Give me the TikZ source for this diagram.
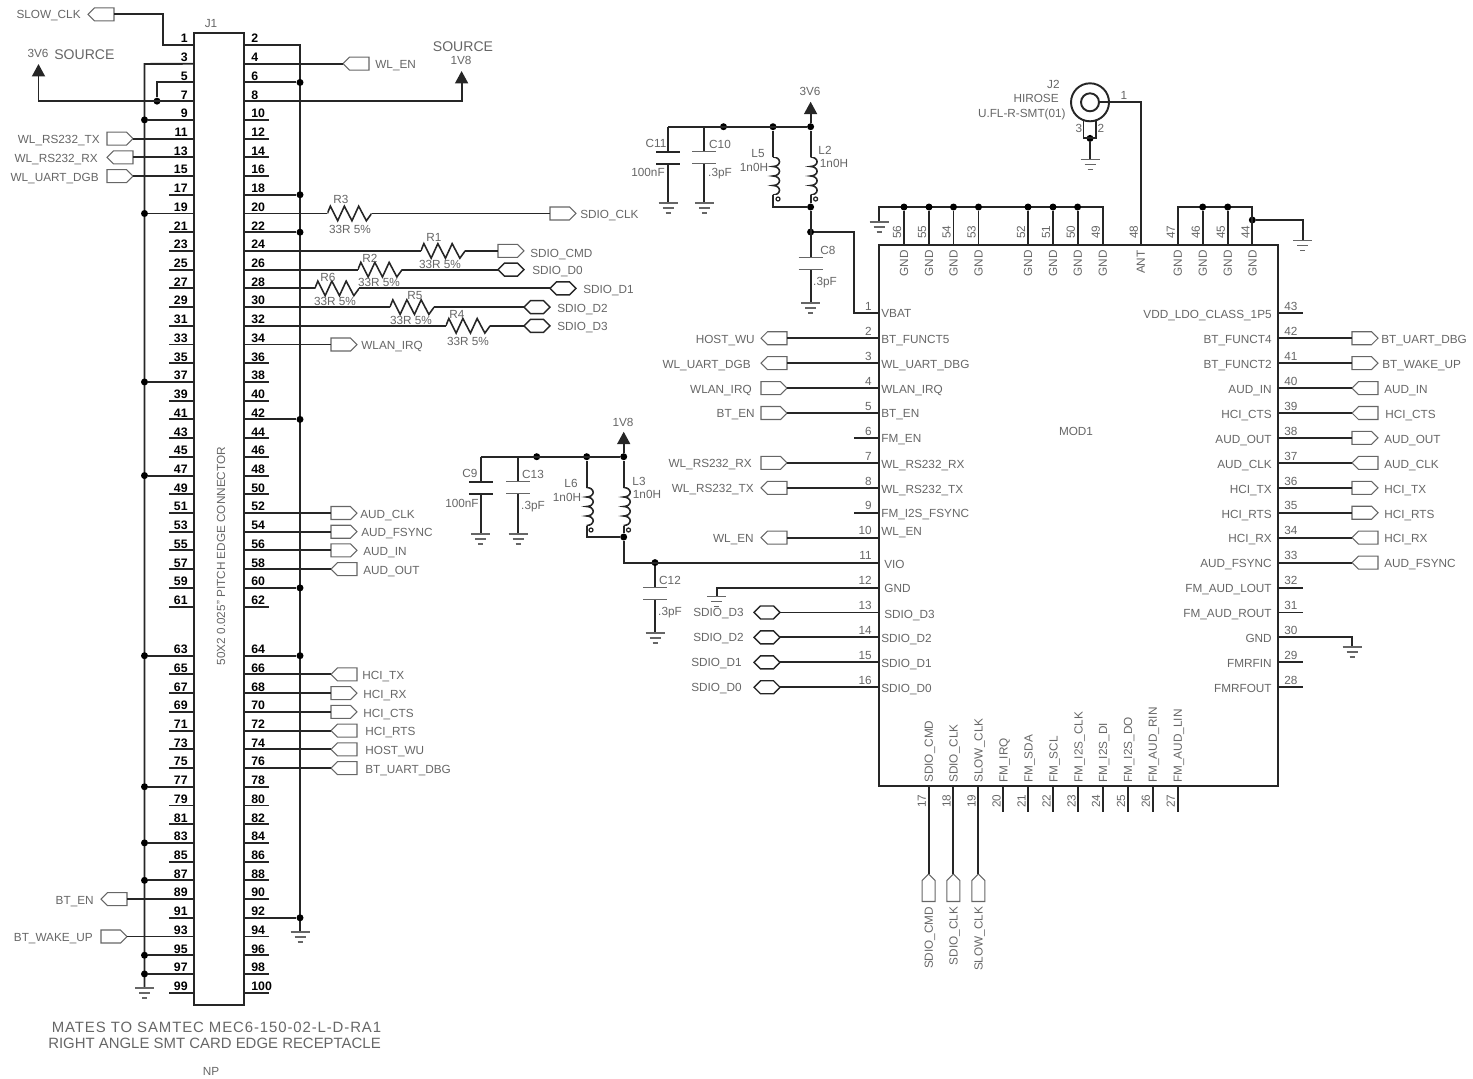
\documentclass[tikz,border=0pt]{standalone}
\usepackage{fontspec}
\setmainfont{Liberation Sans}
\newfontfamily\WideFont[LetterSpace=6]{Liberation Sans}
\usepackage{xcolor}
\usetikzlibrary{arrows.meta}
\usetikzlibrary{circuits.ee.IEC}
\usetikzlibrary{shapes.symbols}
\definecolor{PlotGray}{HTML}{666666}
\definecolor{WireDark}{HTML}{262626}
\tikzset{
  Wire/.style={line width=1.1pt,draw=WireDark}, % Leitung
  Txt/.style={font=\fontsize{6.7}{8}\selectfont,text=PlotGray,inner sep=0pt,text height=4.8pt,text depth=0pt},
  PinNr/.style={font=\fontsize{7}{8}\selectfont\bfseries,text=black,inner sep=0pt,text height=5pt,text depth=0pt},
  Port/.style={signal,signal to=#1,draw=PlotGray,line width=.6pt,anchor=west,
    minimum width=.52cm,minimum height=.26cm,inner sep=0pt,outer sep=0pt},
  HexPort/.style={Port=east and west,draw=WireDark,line width=.8pt},
  UpPort/.style={Port=north,anchor=north,minimum width=.26cm,minimum height=.42cm},
  Dot/.style={circle,fill=black,inner sep=0pt,minimum size=.14cm},
  Pol/.style={circle,draw=WireDark,line width=.7pt,inner sep=0pt,minimum size=.08cm},
  Box/.style={draw=WireDark,line width=1.1pt,inner sep=0pt,outer sep=0pt},
  Res/.style={rectangle,inner sep=0pt,outer sep=0pt,minimum width=.886cm,minimum height=.36cm,
    path picture={\draw[WireDark,line width=.9pt] (path picture bounding box.west) -- ++(3,-7.3) -- ++(7.3,14.6) -- ++(6.7,-14.6) -- ++(7.6,14.6) -- ++(6.7,-14.6) -- ++(7.7,14.6) -- ++(5.3,-7.3);}},
  Ind/.style={rectangle,inner sep=0pt,outer sep=0pt,minimum width=.5cm,minimum height=.76cm,
    path picture={\draw[WireDark,line width=.9pt] (path picture bounding box.north)
      arc[start angle=90,end angle=-90,x radius=.13cm,y radius=.095cm]
      arc[start angle=90,end angle=-90,x radius=.13cm,y radius=.095cm]
      arc[start angle=90,end angle=-90,x radius=.13cm,y radius=.095cm]
      arc[start angle=90,end angle=-90,x radius=.13cm,y radius=.095cm];}},
  GndSym/.pic={\draw[PlotGray,line width=.7pt] (-9.5,0) -- (9.5,0) (-5.5,5) -- (5.5,5) (-2.5,10) -- (2.5,10);}
}
\begin{document}
\begin{tikzpicture}[x=.02cm,y=-.02cm,
circuit ee IEC, circuit symbol lines/.style={draw=WireDark,line width=1.2pt},
set capacitor graphic={capacitor IEC graphic,circuit symbol size=width 1 height 2},
circuit symbol unit=6.8pt,
>={Triangle[length=.25cm,width=.26cm]}
]
\useasboundingbox (0,0) rectangle (1473,1078);

%Steckverbinder J1
\node[Box,minimum width=1cm,minimum height=19.44cm] (J1) at (219,519) {};
\node[Txt] (J1name) at (211,23) {J1};
\node[Txt,rotate=90] (J1type) at (221,556) {50X2 0.025'' PITCH EDGE CONNECTOR};
\foreach \r in {1,...,50}{
  \pgfmathsetmacro\py{\r<32 ? 45+(\r-1)*18.72 : 655.7+(\r-32)*18.72}
  \pgfmathtruncatemacro\la{2*\r-1}
  \pgfmathtruncatemacro\ra{2*\r}
  \coordinate (P\la) at (194,\py);
  \coordinate (P\ra) at (244,\py);
  \node[PinNr,anchor=east] (N\la) at (188,\py-6.5) {\la};
  \node[PinNr,anchor=west] (N\ra) at (251,\py-6.5) {\ra};
}
\foreach \n in {17,21,23,25,27,29,31,33,35,39,41,43,45,49,51,53,55,57,59,61,65,67,69,71,73,75,79,81,85,91,99}
  \draw[Wire] (P\n) -- ++(-25,0);
\foreach \n in {10,12,14,16,36,38,40,44,46,48,50,62,78,80,82,84,86,88,90,94,96,98,100}
  \draw[Wire] (P\n) -- ++(25,0);

%Sammelleitungen J1
\coordinate (BusL) at (144.5,64);
\coordinate (BusR) at (300,45);
\coordinate (GL) at (144.5,988);
\coordinate (GR) at (300,932);
\draw[Wire] (P3) -- (BusL) -- (GL);
\draw[Wire] (P2) -- (BusR) -- (GR);
\foreach \n in {9,19,37,47,63,77,83,87,95,97}{
  \node[Dot] (DL\n) at (P\n -| BusL) {};
  \draw[Wire] (P\n) -- (DL\n);
}
\foreach \n in {6,18,22,42,60,64,92}{
  \node[Dot] (DR\n) at (P\n -| BusR) {};
  \draw[Wire] (P\n) -- (DR\n);
}

%Versorgung J1
\coordinate (V36) at (38.5,64);
\coordinate (V18) at (461.6,71);
\node[Dot] (D7) at (157,0 |- P7) {};
\coordinate (K5) at (157,0 |- P5);
\draw[Wire,->] (P7) -| (V36);
\draw[Wire] (P5) -- (K5) -- (D7);
\draw[Wire,->] (P8) -| (V18);
\node[Txt] (tV36) at (38,53) {3V6};
\node[Txt,anchor=west,font=\fontsize{8}{10}\selectfont,text height=6pt] (tSrcL) at (54,54) {SOURCE};
\node[Txt,font=\fontsize{8}{10}\selectfont,text height=6pt] (tSrcR) at (463,46) {SOURCE};
\node[Txt] (tV18) at (461,60) {1V8};

%Ports links von J1
\node[Port=west] (C1) at (88,14.3) {};
\node[Txt,anchor=east] (T1) at (81,14.3) {SLOW\_CLK};
\coordinate (K1) at (163,14.3);
\draw[Wire] (C1.east) -- (K1) |- (P1);
\foreach \n/\d/\txt/\lx/\bx in {11/east/WL\_RS232\_TX/100/107,13/west/WL\_RS232\_RX/98/107,15/east/WL\_UART\_DGB/99/107,89/west/BT\_EN/94/101,93/east/BT\_WAKE\_UP/93/101}{
  \node[Port=\d] (C\n) at (\bx,0 |- P\n) {};
  \node[Txt,anchor=east,yshift=-.6pt] (T\n) at (\lx,0 |- P\n) {\txt};
  \draw[Wire] (P\n) -- (C\n.east);
}

%Ports rechts von J1
\foreach \n/\d/\txt/\bx/\lx in {4/west/WL\_EN/343/375,34/east/WLAN\_IRQ/331/361,52/east/AUD\_CLK/331/360,54/east/AUD\_FSYNC/331/361,56/east/AUD\_IN/331/363,58/west/AUD\_OUT/331/363,66/west/HCI\_TX/331/362,68/east/HCI\_RX/331/363,70/east/HCI\_CTS/331/363,72/west/HCI\_RTS/331/365,74/west/HOST\_WU/331/365,76/west/BT\_UART\_DBG/331/365}{
  \node[Port=\d] (C\n) at (\bx,0 |- P\n) {};
  \node[Txt,anchor=west,yshift=-.6pt] (T\n) at (\lx,0 |- P\n) {\txt};
  \draw[Wire] (P\n) -- (C\n.west);
}
\node[Txt,font=\fontsize{8.5}{10}\selectfont\WideFont] (tMate) at (216.5,1028) {MATES TO SAMTEC MEC6-150-02-L-D-RA1};
\node[Txt,font=\fontsize{8.5}{10}\selectfont] (tAngle) at (214.5,1044) {RIGHT ANGLE SMT CARD EDGE RECEPTACLE};
\node[Txt] (tNP) at (211,1071) {NP};

%Widerstaende
\foreach \n/\rn/\rx/\ltx/\lty/\vtx/\vty in {20/R3/349.5/341/199.5/350/229,24/R1/443/434/237/440/264,26/R2/380/370/258/379/282,28/R6/337/328/277/335/301,30/R5/412/415/295/411/320,32/R4/468/457/314/468/341}{
  \node[Res] (\rn) at (\rx,0 |- P\n) {};
  \node[Txt] (t\rn) at (\ltx,\lty) {\rn};
  \node[Txt] (v\rn) at (\vtx,\vty) {33R 5\%};
  \draw[Wire] (P\n) -- (\rn.west);
}
\node[Port=east] (CR3) at (550,0 |- P20) {};
\node[Txt,anchor=west] (TR3) at (580,214) {SDIO\_CLK};
\node[Port=east] (CR1) at (498,0 |- P24) {};
\node[Txt,anchor=west] (TR1) at (530,253) {SDIO\_CMD};
\node[HexPort] (CR2) at (498,0 |- P26) {};
\node[Txt,anchor=west] (TR2) at (532,270) {SDIO\_D0};
\node[HexPort] (CR6) at (550,0 |- P28) {};
\node[Txt,anchor=west] (TR6) at (583,289) {SDIO\_D1};
\node[HexPort] (CR5) at (524,0 |- P30) {};
\node[Txt,anchor=west] (TR5) at (557,308) {SDIO\_D2};
\node[HexPort] (CR4) at (524,0 |- P32) {};
\node[Txt,anchor=west] (TR4) at (557,326) {SDIO\_D3};
\foreach \rn in {R1,R2,R3,R4,R5,R6}
  \draw[Wire] (\rn.east) -- (C\rn.west);

%Baustein MOD1
\node[Box,minimum width=7.98cm,minimum height=10.83cm] (MOD) at (1078.5,515.5) {};
\node[Txt] (tMOD) at (1076,431) {MOD1};
\foreach \k in {1,...,16}{
  \pgfmathsetmacro\py{313.3+(\k-1)*24.93}
  \coordinate (M\k) at (879,\py);
  \node[Txt,anchor=east] (N-M\k) at (872,\py-7) {\k};
}
\foreach \k in {28,...,43}{
  \pgfmathsetmacro\py{313.3+(43-\k)*24.93}
  \coordinate (M\k) at (1278,\py);
  \node[Txt,anchor=west] (N-M\k) at (1284,\py-7) {\k};
}
\foreach \k/\x/\txt in {56/904/GND,55/929/GND,54/953.5/GND,53/978.5/GND,52/1028/GND,51/1053/GND,50/1077.6/GND,49/1102.6/GND,48/1140.7/ANT,47/1177.7/GND,46/1202.7/GND,45/1227.7/GND,44/1252.3/GND}{
  \coordinate (M\k) at (\x,244.5);
  \node[Txt,rotate=90] (N-M\k) at (\x-7,232) {\k};
  \node[Txt,rotate=90,anchor=east] (T-M\k) at (\x,250) {\txt};
}
\foreach \k/\x/\txt in {17/928.7/SDIO\_CMD,18/953.3/SDIO\_CLK,19/978.3/SLOW\_CLK,20/1003.3/FM\_IRQ,21/1028.3/FM\_SDA,22/1053.3/FM\_SCL,23/1078.3/FM\_I2S\_CLK,24/1103/FM\_I2S\_DI,25/1128/FM\_I2S\_DO,26/1152.7/FM\_AUD\_RIN,27/1177.7/FM\_AUD\_LIN}{
  \coordinate (M\k) at (\x,786.7);
  \node[Txt,rotate=90] (N-M\k) at (\x-7,801) {\k};
  \node[Txt,rotate=90,anchor=west] (T-M\k) at (\x,783) {\txt};
}
\foreach \k/\txt/\lx/\ly in {1/VBAT/881/313.5,2/BT\_FUNCT5/881/339,3/WL\_UART\_DBG/881/364,4/WLAN\_IRQ/881/389,5/BT\_EN/881/413.5,6/FM\_EN/881/438.5,7/WL\_RS232\_RX/881/464,8/WL\_RS232\_TX/881/489,9/FM\_I2S\_FSYNC/881/513,10/WL\_EN/881/531,11/VIO/884/564,12/GND/884/588,13/SDIO\_D3/884/614.5,14/SDIO\_D2/881/638,15/SDIO\_D1/881/663,16/SDIO\_D0/881/688}
  \node[Txt,anchor=west] (T-M\k) at (\lx,\ly) {\txt};
\foreach \k/\txt in {43/VDD\_LDO\_CLASS\_1P5,42/BT\_FUNCT4,41/BT\_FUNCT2,40/AUD\_IN,39/HCI\_CTS,38/AUD\_OUT,37/AUD\_CLK,36/HCI\_TX,35/HCI\_RTS,34/HCI\_RX,33/AUD\_FSYNC,32/FM\_AUD\_LOUT,31/FM\_AUD\_ROUT,30/GND,29/FMRFIN,28/FMRFOUT}
  \node[Txt,anchor=east,yshift=-.6pt] (T-M\k) at (1272,0 |- M\k) {\txt};

%Freie Pins MOD1
\foreach \k in {6,9}
  \draw[Wire] (M\k) -- ++(-25,0);
\foreach \k in {43,32,31,29,28}
  \draw[Wire] (M\k) -- ++(25,0);
\foreach \k in {20,...,27}
  \draw[Wire] (M\k) -- ++(0,25);

%Ports MOD1
\foreach \k/\d/\txt/\lx in {2/west/HOST\_WU/755,3/west/WL\_UART\_DGB/751,4/east/WLAN\_IRQ/752,5/east/BT\_EN/755,7/east/WL\_RS232\_RX/752,8/west/WL\_RS232\_TX/754,10/west/WL\_EN/754}{
  \node[Port=\d] (CM\k) at (761,0 |- M\k) {};
  \node[Txt,anchor=east,yshift=-.4pt] (TC\k) at (\lx,0 |- M\k) {\txt};
  \draw[Wire] (CM\k.east) -- (M\k);
}
\foreach \k/\txt/\lx in {13/SDIO\_D3/744,14/SDIO\_D2/744,15/SDIO\_D1/742,16/SDIO\_D0/742}{
  \node[HexPort] (CM\k) at (754,0 |- M\k) {};
  \node[Txt,anchor=east] (TC\k) at (\lx,0 |- M\k) {\txt};
  \draw[Wire] (CM\k.east) -- (M\k);
}
\foreach \k/\d/\txt/\lx in {42/east/BT\_UART\_DBG/1381,41/east/BT\_WAKE\_UP/1382,40/west/AUD\_IN/1384,39/west/HCI\_CTS/1385,38/east/AUD\_OUT/1384,37/west/AUD\_CLK/1384,36/east/HCI\_TX/1384,35/east/HCI\_RTS/1384,34/west/HCI\_RX/1384,33/west/AUD\_FSYNC/1384}{
  \node[Port=\d] (CM\k) at (1352,0 |- M\k) {};
  \node[Txt,anchor=west,yshift=-.6pt] (TC\k) at (\lx,0 |- M\k) {\txt};
  \draw[Wire] (M\k) -- (CM\k.west);
}
\foreach \k/\txt in {17/SDIO\_CMD,18/SDIO\_CLK,19/SLOW\_CLK}{
  \node[UpPort] (CM\k) at (M\k |- 0,874) {};
  \node[Txt,rotate=90,anchor=east] (TC\k) at (M\k |- 0,906.5) {\txt};
  \draw[Wire] (M\k) -- (CM\k.north);
}

%GND-Schienen oben
\coordinate (GA) at (879,222);
\coordinate (RailA) at (879,207);
\coordinate (RailB) at (1102.6,207);
\coordinate (RailC) at (1177.7,207);
\coordinate (RailD) at (1252.3,207);
\coordinate (GB) at (1302.7,240.7);
\node[Dot] (D44) at (1252.3,220) {};
\draw[Wire] (GA) -- (RailA) -- (RailB) -- (M49);
\draw[Wire] (M47) -- (RailC) -- (RailD) -- (M44);
\draw[Wire] (D44) -| (GB);
\foreach \k in {56,55,54,53,52,51,50}{
  \node[Dot] (DM\k) at (M\k |- RailA) {};
  \draw[Wire] (DM\k) -- (M\k);
}
\foreach \k in {46,45}{
  \node[Dot] (DM\k) at (M\k |- RailA) {};
  \draw[Wire] (DM\k) -- (M\k);
}

%J2
\node[circle,draw=WireDark,line width=1.1pt,minimum size=.76cm,inner sep=0pt] (J2a) at (1090,102.3) {};
\node[circle,draw=WireDark,line width=1.1pt,minimum size=.36cm,inner sep=0pt] (J2b) at (1090,102.3) {};
\coordinate (J2l) at (1083.5,120);
\coordinate (J2r) at (1096,120);
\node[Dot] (J2m) at (1090,138.4) {};
\coordinate (GJ2) at (1090,159.3);
\draw[Wire] (J2b.east) -| (M48);
\draw[Wire] (J2l) |- (J2m.center) -| (J2r);
\draw[Wire] (J2m) -- (GJ2);
\node[Txt,anchor=east] (tJ2) at (1060,84) {J2};
\node[Txt,anchor=east] (tHir) at (1059,98) {HIROSE};
\node[Txt,anchor=east] (tUfl) at (1066,113) {U.FL-R-SMT(01)};
\foreach \nm/\x/\y/\txt in {tJ2a/1124/95/1,tJ2b/1079/128/3,tJ2c/1101/128/2}
  \node[Txt] (\nm) at (\x,\y) {\txt};

%Versorgung 3V6
\coordinate (V36b) at (810.6,101.7);
\coordinate (TopA) at (668,126.7);
\coordinate (TopB) at (704.4,126.7);
\node[Dot] (TopC) at (723.5,126.7) {};
\node[Dot] (TopD) at (773,126.7) {};
\node[Dot] (TopE) at (810.6,126.7) {};
\node[Dot] (FootE) at (810.6,207) {};
\coordinate (FootD) at (773,207);
\node[Dot] (TapE) at (810.6,232) {};
\coordinate (Vbat) at (854.4,313.3);
\node[capacitor,rotate=-90] (C11) at (668,157.6) {};
\node[capacitor,rotate=-90,draw=PlotGray,line width=.6pt] (C10) at (704.4,157.6) {};
\node[Ind] (L5) at (773,176) {};
\node[Ind] (L2) at (810.6,176) {};
\node[capacitor,rotate=-90,draw=PlotGray,line width=.6pt] (C8) at (810.6,263.6) {};
\node[Pol] (PolL5) at (778,199) {};
\node[Pol] (PolL2) at (815.6,199) {};
\coordinate (GC11) at (668,203);
\coordinate (GC10) at (704.4,203);
\coordinate (GC8) at (810.6,303);
\draw[Wire] (TopA) -- (TopE);
\draw[Wire,->] (TopE) -- (V36b);
\draw[Wire] (TopA) -- (C11.west) (C11.east) -- (GC11);
\draw[Wire] (TopB) -- (C10.west) (C10.east) -- (GC10);
\draw[Wire] (TopD) -- (L5.north) (L5.south) -- (FootD) -- (FootE);
\draw[Wire] (TopE) -- (L2.north) (L2.south) -- (FootE);
\draw[Wire] (FootE) -- (C8.west) (C8.east) -- (GC8);
\draw[Wire] (TapE) -| (Vbat) -- (M1);

%Versorgung 1V8
\coordinate (V18b) at (623.7,431.7);
\coordinate (LowA) at (480.7,456.7);
\coordinate (LowB) at (518,456.7);
\node[Dot] (LowC) at (536.7,456.7) {};
\node[Dot] (LowD) at (586.7,456.7) {};
\node[Dot] (LowE) at (623.7,456.7) {};
\node[Dot] (FootL) at (623.7,537) {};
\coordinate (FootK) at (586.7,537);
\node[Dot] (TapV) at (655,0 |- M11) {};
\coordinate (KneeV) at (623.7,0 |- M11);
\node[capacitor,rotate=-90] (C9) at (480.7,487.6) {};
\node[capacitor,rotate=-90,draw=PlotGray,line width=.6pt] (C13) at (518,487.6) {};
\node[Ind] (L6) at (586.7,506.5) {};
\node[Ind] (L3) at (623.7,506.5) {};
\node[capacitor,rotate=-90,draw=PlotGray,line width=.6pt] (C12) at (655,593.6) {};
\node[Pol] (PolL6) at (591,530) {};
\node[Pol] (PolL3) at (628.5,530) {};
\coordinate (GC9) at (480.7,534);
\coordinate (GC13) at (518,534);
\coordinate (GC12) at (655,633);
\draw[Wire] (LowA) -- (LowE);
\draw[Wire,->] (LowE) -- (V18b);
\draw[Wire] (LowA) -- (C9.west) (C9.east) -- (GC9);
\draw[Wire] (LowB) -- (C13.west) (C13.east) -- (GC13);
\draw[Wire] (LowD) -- (L6.north) (L6.south) -- (FootK) -- (FootL);
\draw[Wire] (LowE) -- (L3.north) (L3.south) -- (FootL);
\draw[Wire] (FootL) -- (KneeV) -- (M11);
\draw[Wire] (TapV) -- (C12.west) (C12.east) -- (GC12);

%GND Pins 12 und 30
\coordinate (G12) at (716.7,596.7);
\coordinate (G30) at (1352,647);
\draw[Wire] (M12) -| (G12);
\draw[Wire] (M30) -| (G30);

%Masse
\foreach \g in {GL,GR,GA,GB,GJ2,GC11,GC10,GC8,GC9,GC13,GC12,G12,G30}
  \pic at (\g) {GndSym};

%Beschriftung Bauteile
\foreach \nm/\x/\y/\txt in {tVa/810/91/3V6,tVb/623/422/1V8,tC11/656/143/C11,vC11/648/172/100nF,tC10/720/144/C10,vC10/720/172/.3pF,tL5/758/153/L5,vL5/754/167/1n0H,tL2/825/150/L2,vL2/834/163/1n0H,tC8/828/250/C8,vC8/825/281/.3pF,tC9/470/473/C9,vC9/462/503/100nF,tC13/533/474/C13,vC13/533/505/.3pF,tL6/571/483/L6,vL6/567/497/1n0H,tL3/639/481/L3,vL3/647/494/1n0H,tC12/670/580/C12,vC12/670/611/.3pF}
  \node[Txt] (\nm) at (\x,\y) {\txt};
\end{tikzpicture}
\end{document}
